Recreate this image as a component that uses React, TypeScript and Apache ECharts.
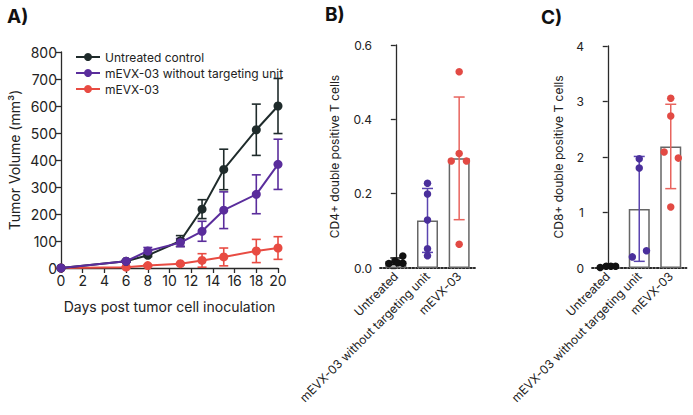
import React, { useEffect, useRef } from "react";
import * as echarts from "echarts";

// ---------- Panel A data ----------
const days = [0, 6, 8, 11, 13, 15, 18, 20];
const untreatedMean = [0, 25, 47, 100, 218, 365, 512, 600];
const untreatedErr = [0, 3, 5, 20, 35, 75, 95, 102];
const noTargetMean = [0, 25, 63, 94, 136, 214, 273, 384];
const noTargetErr = [0, 3, 13, 15, 37, 68, 72, 93];
const mevxMean = [0, 3, 9, 16, 28, 41, 63, 74];
const mevxErr = [0, 2, 3, 4, 25, 33, 43, 42];
const seriesNames = ["Untreated control", "mEVX-03 without targeting unit", "mEVX-03"];
const yTicksA = [0, 100, 200, 300, 400, 500, 600, 700, 800];

// ---------- Panels B & C data ----------
const groups = ["Untreated", "mEVX-03 without targeting unit", "mEVX-03"];
const cd4Mean = [0.018, 0.128, 0.295];
const cd4Sd = [0.009, 0.086, 0.165];
const cd4Untreated = [0.012, 0.019, 0.014, 0.032, 0.013];
const cd4UntreatedJit = [-0.22, -0.03, 0.06, 0.22, 0.22];
const cd4NoTarget = [0.228, 0.199, 0.129, 0.052, 0.033];
const cd4NoTargetJit = [0, 0, 0, 0, 0];
const cd4Mevx = [0.528, 0.308, 0.288, 0.288, 0.064];
const cd4MevxJit = [0, 0, -0.25, 0.23, 0];

const cd8Mean = [0.02, 1.065, 2.19];
const cd8Sd = [0.01, 0.945, 0.76];
const cd8Untreated = [0.01, 0.03, 0.03, 0.03];
const cd8UntreatedJit = [-0.24, -0.05, 0.1, 0.25];
const cd8NoTarget = [1.97, 1.8, 0.31, 0.2];
const cd8NoTargetJit = [0, 0, 0.23, -0.22];
const cd8Mevx = [3.06, 2.74, 2.09, 1.98, 1.1];
const cd8MevxJit = [0, 0, -0.21, 0.24, 0];

const C_BLACK = "#1f2b2b";
const C_PURPLE = "#5a2d9c";
const C_RED = "#e84b42";
const FONT = "Inter";
const AXIS = "#2a2a2a";

function errRender(capHalf: number, color: string, width = 1.5) {
  return (params: any, api: any) => {
    const x = api.value(0);
    const m = api.value(1);
    const e = api.value(2);
    if (!(e > 0)) return null;
    const top = api.coord([x, m + e]);
    const bot = api.coord([x, m - e]);
    const st = { stroke: color, lineWidth: width };
    return {
      type: "group",
      children: [
        { type: "line", shape: { x1: top[0], y1: top[1], x2: bot[0], y2: bot[1] }, style: st },
        { type: "line", shape: { x1: top[0] - capHalf, y1: top[1], x2: top[0] + capHalf, y2: top[1] }, style: st },
        { type: "line", shape: { x1: bot[0] - capHalf, y1: bot[1], x2: bot[0] + capHalf, y2: bot[1] }, style: st },
      ],
    };
  };
}

const pairs = (xs: number[], ys: number[]) => xs.map((x, i) => [x, ys[i]]);
const triples = (xs: number[], ys: number[], es: number[]) => xs.map((x, i) => [x, ys[i], es[i]]);
const dots = (g: number, vals: number[], jit: number[]) => vals.map((v, i) => [g + jit[i], v]);

export default function App() {
  const ref = useRef<HTMLDivElement>(null);
  useEffect(() => {
    if (!ref.current) return;
    const chart = echarts.init(ref.current, undefined, { renderer: "svg" });

    const lineA = (name: string, ys: number[], color: string, z: number) => ({
      type: "line",
      name,
      xAxisIndex: 0,
      yAxisIndex: 0,
      data: pairs(days, ys),
      symbol: "circle",
      symbolSize: 9,
      lineStyle: { color, width: 2 },
      itemStyle: { color },
      z,
    });
    const errA = (ys: number[], es: number[], color: string, z: number) => ({
      type: "custom",
      xAxisIndex: 0,
      yAxisIndex: 0,
      data: triples(days, ys, es),
      renderItem: errRender(4.5, color, 1.6),
      z,
    });

    const catX = (gridIndex: number) => ({
      gridIndex,
      type: "category",
      data: groups,
      axisLine: { show: true, lineStyle: { color: AXIS, width: 1.8, type: "dotted" } },
      axisTick: { show: false },
      axisLabel: { rotate: 45, interval: 0, margin: 6, fontSize: 12, fontFamily: FONT, color: "#222" },
      splitLine: { show: false },
    });
    const hiddenX = (gridIndex: number) => ({
      gridIndex,
      type: "value",
      min: -0.5,
      max: 2.5,
      show: false,
    });
    const barY = (gridIndex: number, max: number, interval: number, name: string, nameGap: number, digits: number) => ({
      gridIndex,
      type: "value",
      min: 0,
      max,
      interval,
      offset: 5,
      name,
      nameLocation: "middle",
      nameGap,
      nameTextStyle: { fontSize: 12, fontFamily: FONT, color: "#222" },
      axisLine: { show: true, lineStyle: { color: AXIS, width: 1.3 } },
      axisTick: { show: true, length: 5, lineStyle: { color: AXIS, width: 1.3 } },
      axisLabel: { fontSize: 12, fontFamily: FONT, color: "#222", margin: 3, formatter: (v: number) => v.toFixed(digits) },
      splitLine: { show: false },
    });

    const bars = (xi: number, yi: number, means: number[]) => ({
      type: "bar",
      xAxisIndex: xi,
      yAxisIndex: yi,
      data: means,
      barWidth: 21,
      itemStyle: { color: "rgba(255,255,255,0)", borderColor: "#666", borderWidth: 1.5 },
      z: 1,
    });
    const barErr = (xi: number, yi: number, means: number[], sds: number[], colors: string[]) =>
      colors.map((c, g) => ({
        type: "custom",
        xAxisIndex: xi,
        yAxisIndex: yi,
        data: [[g, means[g], sds[g]]],
        renderItem: errRender(5.5, c, 1.5),
        z: 3,
      }));
    const scat = (xi: number, yi: number, data: number[][], color: string) => ({
      type: "scatter",
      xAxisIndex: xi,
      yAxisIndex: yi,
      data,
      symbol: "circle",
      symbolSize: 7.5,
      itemStyle: { color, opacity: 1 },
      z: 4,
    });

    chart.setOption({
      animation: false,
      textStyle: { fontFamily: FONT },
      title: [
        { text: "A)", left: 2, top: 2, textStyle: { fontSize: 19, fontWeight: "bold", color: "#111", fontFamily: FONT } },
        { text: "B)", left: 320, top: 0, textStyle: { fontSize: 19, fontWeight: "bold", color: "#111", fontFamily: FONT } },
        { text: "C)", left: 536, top: 3, textStyle: { fontSize: 19, fontWeight: "bold", color: "#111", fontFamily: FONT } },
      ],
      legend: {
        data: seriesNames,
        orient: "vertical",
        left: 70,
        top: 46,
        itemGap: 4,
        itemWidth: 24,
        itemHeight: 10,
        textStyle: { fontSize: 12, fontFamily: FONT, color: "#222" },
      },
      grid: [
        { left: 61, top: 52, width: 217, height: 216 },
        { left: 380, top: 45, width: 95, height: 223 },
        { left: 592, top: 46, width: 94.5, height: 222 },
      ],
      xAxis: [
        {
          gridIndex: 0,
          type: "value",
          min: 0,
          max: 20,
          interval: 2,
          name: "Days post tumor cell inoculation",
          nameLocation: "middle",
          nameGap: 31,
          nameTextStyle: { fontSize: 14, fontFamily: FONT, color: "#222" },
          axisLine: { show: true, lineStyle: { color: AXIS, width: 1.3 } },
          axisTick: { show: true, length: 5, lineStyle: { color: AXIS, width: 1.3 } },
          axisLabel: { fontSize: 14, fontFamily: FONT, color: "#222", margin: 5 },
          splitLine: { show: false },
        },
        catX(1),
        hiddenX(1),
        catX(2),
        hiddenX(2),
      ],
      yAxis: [
        {
          gridIndex: 0,
          type: "value",
          min: yTicksA[0],
          max: yTicksA[yTicksA.length - 1],
          interval: 100,
          name: "Tumor Volume (mm³)",
          nameLocation: "middle",
          nameGap: 40,
          nameTextStyle: { fontSize: 14, fontFamily: FONT, color: "#222" },
          axisLine: { show: true, lineStyle: { color: AXIS, width: 1.3 } },
          axisTick: { show: true, length: 5, lineStyle: { color: AXIS, width: 1.3 } },
          axisLabel: { fontSize: 14, fontFamily: FONT, color: "#222", margin: 4 },
          splitLine: { show: false },
        },
        barY(1, 0.6, 0.2, "CD4+ double positive T cells", 35, 1),
        barY(2, 4, 1, "CD8+ double positive T cells", 23, 0),
      ],
      series: [
        errA(untreatedMean, untreatedErr, C_BLACK, 2),
        errA(noTargetMean, noTargetErr, C_PURPLE, 2),
        errA(mevxMean, mevxErr, C_RED, 2),
        lineA("mEVX-03", mevxMean, C_RED, 3),
        lineA("Untreated control", untreatedMean, C_BLACK, 4),
        lineA("mEVX-03 without targeting unit", noTargetMean, C_PURPLE, 5),

        bars(1, 1, cd4Mean),
        ...barErr(1, 1, cd4Mean, cd4Sd, ["#111", "#5b45b0", "#e8645e"]),
        scat(2, 1, dots(0, cd4Untreated, cd4UntreatedJit), "#111"),
        scat(2, 1, dots(1, cd4NoTarget, cd4NoTargetJit), "#4a2f9b"),
        scat(2, 1, dots(2, cd4Mevx, cd4MevxJit), "#e24a44"),

        bars(3, 2, cd8Mean),
        ...barErr(3, 2, cd8Mean, cd8Sd, ["#111", "#5b45b0", "#e8645e"]),
        scat(4, 2, dots(0, cd8Untreated, cd8UntreatedJit), "#111"),
        scat(4, 2, dots(1, cd8NoTarget, cd8NoTargetJit), "#4a2f9b"),
        scat(4, 2, dots(2, cd8Mevx, cd8MevxJit), "#e24a44"),
      ],
    });
    return () => chart.dispose();
  }, []);

  return (
    <div
      ref={ref}
      style={{ position: "fixed", left: 0, top: 0, width: 693, height: 415, background: "#fff" }}
    />
  );
}
